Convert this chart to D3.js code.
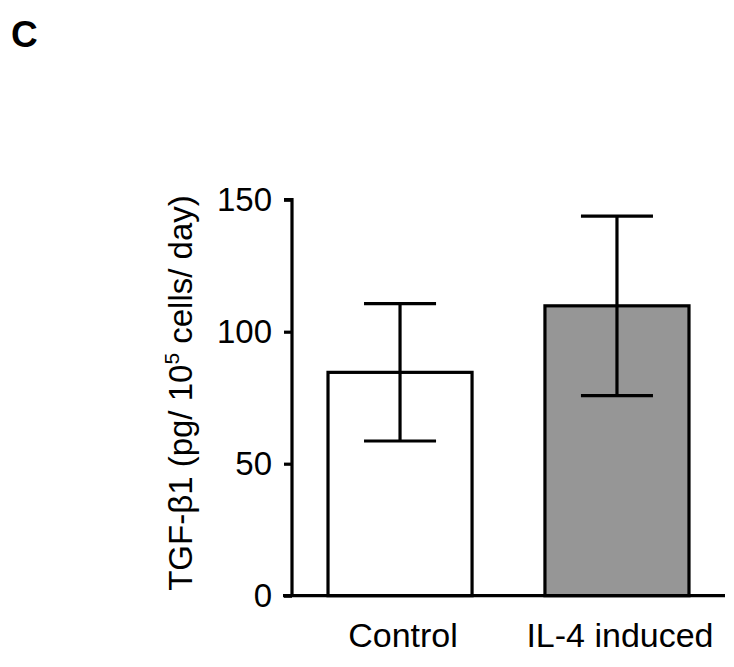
<!DOCTYPE html>
<html><head><meta charset="utf-8">
<script src="https://cdn.jsdelivr.net/npm/d3@7"></script>
<style>body{margin:0;background:#fff}svg{display:block}</style>
</head><body>
<script>
const categories = ["Control", "IL-4 induced"];
const means = [84.6, 109.8];
const errors = [26, 34];
const fills = ["#ffffff", "#969696"];
const yTicks = [0, 50, 100, 150];

const W = 734, H = 667;
const svg = d3.select("body").append("svg").attr("width", W).attr("height", H);
const font = "Arial, 'Liberation Sans', sans-serif";
const fs = 33;

const y = d3.scaleLinear().domain([0, 150]).range([595.7, 199.7]);
const x = d3.scaleBand().domain(categories).range([292, 725]).paddingInner(0.336).paddingOuter(0.166);

// bars
svg.selectAll("rect.bar").data(categories).enter().append("rect")
  .attr("x", d => x(d)).attr("width", x.bandwidth())
  .attr("y", (d, i) => y(means[i])).attr("height", (d, i) => y(0) - y(means[i]))
  .attr("fill", (d, i) => fills[i]).attr("stroke", "#000").attr("stroke-width", 3.2);

// error bars
const cap = x.bandwidth() / 4;
categories.forEach((c, i) => {
  const cx = x(c) + x.bandwidth() / 2;
  const g = svg.append("g").attr("stroke", "#000").attr("stroke-width", 3.2);
  g.append("line").attr("x1", cx).attr("x2", cx).attr("y1", y(means[i] + errors[i])).attr("y2", y(means[i] - errors[i]));
  g.append("line").attr("x1", cx - cap).attr("x2", cx + cap).attr("y1", y(means[i] + errors[i])).attr("y2", y(means[i] + errors[i]));
  g.append("line").attr("x1", cx - cap).attr("x2", cx + cap).attr("y1", y(means[i] - errors[i])).attr("y2", y(means[i] - errors[i]));
});

// y axis
const yAxis = svg.append("g").attr("transform", "translate(292,0)")
  .call(d3.axisLeft(y).tickValues(yTicks).tickSize(8).tickPadding(12));
yAxis.select(".domain").attr("stroke-width", 3.2).attr("d", `M-8,${y(150)}H0V${y(0)}`);
yAxis.selectAll(".tick line").attr("stroke-width", 3.2);
yAxis.selectAll(".tick text").attr("font-family", font).attr("font-size", fs).attr("fill", "#000");

// x axis baseline
svg.append("line").attr("x1", 283).attr("x2", 725).attr("y1", y(0)).attr("y2", y(0))
  .attr("stroke", "#000").attr("stroke-width", 3.2);

// x labels
svg.selectAll("text.xl").data(categories).enter().append("text")
  .attr("x", d => x(d) + x.bandwidth() / 2 + 3).attr("y", 647)
  .attr("text-anchor", "middle").attr("font-family", font).attr("font-size", 34).text(d => d);

// y title
const t = svg.append("text").attr("transform", "translate(192,393) rotate(-90)")
  .attr("text-anchor", "middle").attr("font-family", font).attr("font-size", fs);
t.append("tspan").text("TGF-β1 (pg/ 10");
t.append("tspan").attr("font-size", 21).attr("dy", -13).text("5");
t.append("tspan").attr("dy", 13).text(" cells/ day)");

// panel letter
svg.append("text").attr("x", 11).attr("y", 47).attr("font-family", font)
  .attr("font-weight", "bold").attr("font-size", 37).text("C");
</script>
</body></html>
